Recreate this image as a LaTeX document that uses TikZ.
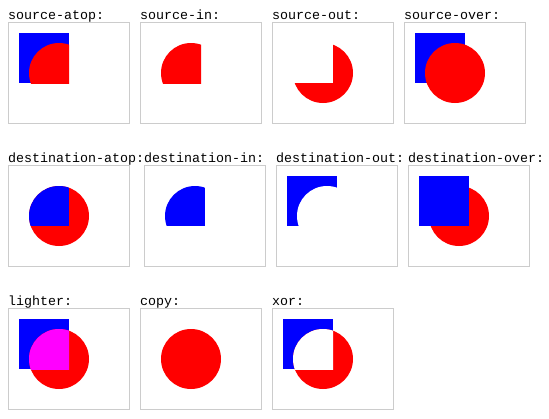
\documentclass[tikz,border=0pt]{standalone}
\usepackage{fontspec}
\setmonofont{Liberation Mono}
\begin{document}
\definecolor{bordergray}{HTML}{CCCCCC}
\definecolor{pureblue}{RGB}{0,0,255}
\definecolor{purered}{RGB}{255,0,0}
\definecolor{puremagenta}{RGB}{255,0,255}
\begin{tikzpicture}[x=1pt,y=-1pt,
  lbl/.style={anchor=base west,inner sep=0pt,font=\ttfamily\fontsize{13.33}{16}\selectfont,text=black},
  canvasbox/.style={draw=bordergray,line width=1pt},
  sqfill/.style={fill=pureblue},
  cifill/.style={fill=purered},
  mixfill/.style={fill=puremagenta},
  blank/.style={fill=white}]
\useasboundingbox[fill=white] (0,0) rectangle (549,418);

% ---------- Row 1 ----------
\node[lbl] (l1) at (8,19) {source-atop:};
\draw[canvasbox] (8.5,22.5) rectangle (129.5,123.5);
\begin{scope}[shift={(9,23)}]
  \fill[sqfill] (10,10) rectangle (60,60);
  \begin{scope}\clip (10,10) rectangle (60,60);
    \fill[cifill] (50,50) circle[radius=30pt];
  \end{scope}
\end{scope}

\node[lbl] (l2) at (140,19) {source-in:};
\draw[canvasbox] (140.5,22.5) rectangle (261.5,123.5);
\begin{scope}[shift={(141,23)}]
  \begin{scope}\clip (10,10) rectangle (60,60);
    \fill[cifill] (50,50) circle[radius=30pt];
  \end{scope}
\end{scope}

\node[lbl] (l3) at (272,19) {source-out:};
\draw[canvasbox] (272.5,22.5) rectangle (393.5,123.5);
\begin{scope}[shift={(273,23)}]
  \fill[cifill] (50,50) circle[radius=30pt];
  \fill[blank] (10,10) rectangle (60,60);
\end{scope}

\node[lbl] (l4) at (404,19) {source-over:};
\draw[canvasbox] (404.5,22.5) rectangle (525.5,123.5);
\begin{scope}[shift={(405,23)}]
  \fill[sqfill] (10,10) rectangle (60,60);
  \fill[cifill] (50,50) circle[radius=30pt];
\end{scope}

% ---------- Row 2 ----------
\node[lbl] (l5) at (8,162) {destination-atop:};
\draw[canvasbox] (8.5,165.5) rectangle (129.5,266.5);
\begin{scope}[shift={(9,166)}]
  \fill[cifill] (50,50) circle[radius=30pt];
  \begin{scope}\clip (50,50) circle[radius=30pt];
    \fill[sqfill] (10,10) rectangle (60,60);
  \end{scope}
\end{scope}

\node[lbl] (l6) at (144,162) {destination-in:};
\draw[canvasbox] (144.5,165.5) rectangle (265.5,266.5);
\begin{scope}[shift={(145,166)}]
  \begin{scope}\clip (50,50) circle[radius=30pt];
    \fill[sqfill] (10,10) rectangle (60,60);
  \end{scope}
\end{scope}

\node[lbl] (l7) at (276,162) {destination-out:};
\draw[canvasbox] (276.5,165.5) rectangle (397.5,266.5);
\begin{scope}[shift={(277,166)}]
  \fill[sqfill] (10,10) rectangle (60,60);
  \fill[blank] (50,50) circle[radius=30pt];
\end{scope}

\node[lbl] (l8) at (408,162) {destination-over:};
\draw[canvasbox] (408.5,165.5) rectangle (529.5,266.5);
\begin{scope}[shift={(409,166)}]
  \fill[cifill] (50,50) circle[radius=30pt];
  \fill[sqfill] (10,10) rectangle (60,60);
\end{scope}

% ---------- Row 3 ----------
\node[lbl] (l9) at (8,305) {lighter:};
\draw[canvasbox] (8.5,308.5) rectangle (129.5,409.5);
\begin{scope}[shift={(9,309)}]
  \fill[sqfill] (10,10) rectangle (60,60);
  \fill[cifill] (50,50) circle[radius=30pt];
  \begin{scope}\clip (10,10) rectangle (60,60);
    \fill[mixfill] (50,50) circle[radius=30pt];
  \end{scope}
\end{scope}

\node[lbl] (l10) at (140,305) {copy:};
\draw[canvasbox] (140.5,308.5) rectangle (261.5,409.5);
\begin{scope}[shift={(141,309)}]
  \fill[cifill] (50,50) circle[radius=30pt];
\end{scope}

\node[lbl] (l11) at (272,305) {xor:};
\draw[canvasbox] (272.5,308.5) rectangle (393.5,409.5);
\begin{scope}[shift={(273,309)}]
  \fill[sqfill] (10,10) rectangle (60,60);
  \fill[cifill] (50,50) circle[radius=30pt];
  \begin{scope}\clip (10,10) rectangle (60,60);
    \fill[blank] (50,50) circle[radius=30pt];
  \end{scope}
\end{scope}
\end{tikzpicture}
\end{document}
